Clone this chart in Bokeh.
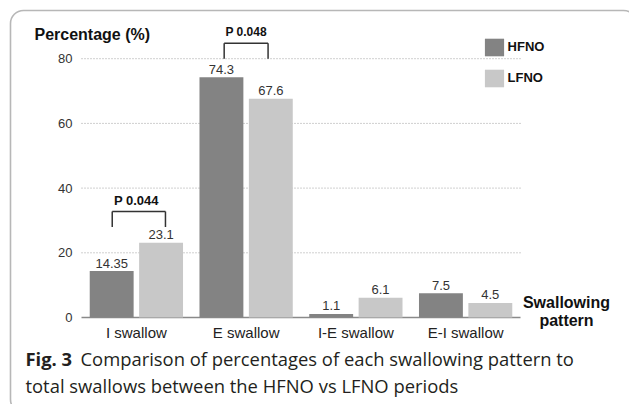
from bokeh.plotting import figure
from bokeh.models import (ColumnDataSource, Label, BoxAnnotation, Legend, LegendItem, Range1d)
from bokeh.transform import dodge
from bokeh.embed import file_html
from bokeh.resources import INLINE
from bokeh.core.properties import value

# ---- data ----
categories = ["I swallow", "E swallow", "I-E swallow", "E-I swallow"]
hfno = [14.35, 74.3, 1.1, 7.5]
lfno = [23.1, 67.6, 6.1, 4.5]
hfno_labels = ["14.35", "74.3", "1.1", "7.5"]
lfno_labels = ["23.1", "67.6", "6.1", "4.5"]
y_ticks = [0, 20, 40, 60, 80]
y_tick_labels = ["0", "20", "40", "60", "80"]
p_labels = ["P 0.044", "P 0.048"]
p_categories = ["I swallow", "E swallow"]
p_bracket_tops = [32.8, 84.8]

# ---- layout (page pixels) ----
W, H = 629, 404
PX_LEFT, PX_RIGHT = 81, 520      # plot area horizontally
PX_ZERO, PX_PER_UNIT = 317, 3.235
N = len(categories)
PX_PER_CAT = (PX_RIGHT - PX_LEFT) / N

def sx(px):
    return (px - PX_LEFT) / PX_PER_CAT

def sy(py):
    return (PX_ZERO - py) / PX_PER_UNIT

FONT = value("Liberation Sans")

xc = [i + 0.5 for i in range(N)]
src = ColumnDataSource(dict(xc=xc, cat=categories, hfno=hfno, lfno=lfno,
                            hl=hfno_labels, ll=lfno_labels))

p = figure(width=W, height=H, x_range=Range1d(sx(0), sx(W)), y_range=Range1d(sy(H), sy(0)),
           output_backend="svg", toolbar_location=None,
           x_axis_location=None, y_axis_location=None,
           min_border=0, min_border_left=0, min_border_right=0,
           min_border_top=0, min_border_bottom=0)
p.outline_line_color = None
p.grid.visible = False
p.background_fill_color = "white"
p.border_fill_color = "white"

# gridlines (dotted) and baseline
grid_ticks = [t for t in y_ticks if t > 0]
p.segment(x0=[0] * len(grid_ticks), x1=[N] * len(grid_ticks), y0=grid_ticks, y1=grid_ticks,
          line_color="#a0a0a0", line_width=1, line_dash="1 2")
p.segment(x0=[0], x1=[N], y0=[0], y1=[0], line_color="#8a8a8a", line_width=1.5)

# y tick labels
p.text(x=[sx(72)] * len(y_ticks), y=y_ticks, text=y_tick_labels, text_font=FONT,
       text_font_size="13px", text_color="#333333", text_align="right",
       text_baseline="middle")

# category labels
p.text(x="xc", y=sy(332), text="cat", source=src, text_font=FONT,
       text_font_size="15px", text_color="#222222", text_align="center",
       text_baseline="middle")

OFF = 0.225
r1 = p.vbar(x=dodge("xc", -OFF), top="hfno", width=0.4, bottom=0,
            source=src, fill_color="#838383", line_color=None)
r2 = p.vbar(x=dodge("xc", OFF), top="lfno", width=0.4, bottom=0,
            source=src, fill_color="#c8c8c8", line_color=None)

for col, lab, off in (("hfno", "hl", -OFF), ("lfno", "ll", OFF)):
    p.text(x=dodge("xc", off), y=col, text=lab, source=src,
           text_font=FONT, text_font_size="13px", text_color="#333333",
           text_align="center", text_baseline="middle", y_offset=-8)

# significance brackets
spans = [(-0.22, 0.265), (-0.2, 0.2)]
LEG = 4.8
for cat, top, lab, (a, b), fs in zip(p_categories, p_bracket_tops, p_labels, spans,
                                      ["13px", "12px"]):
    c = categories.index(cat) + 0.5
    p.segment(x0=[c + a, c + a, c + b], y0=[top, top, top],
              x1=[c + b, c + a, c + b], y1=[top, top - LEG, top - LEG],
              line_color="#333333", line_width=1.5)
    p.add_layout(Label(x=c, y=top + 3.4, text=lab, text_font="Liberation Sans",
                       text_font_size=fs, text_font_style="bold", text_color="#111111",
                       text_align="center", text_baseline="middle"))

# axis titles
p.add_layout(Label(x=sx(34), y=sy(34), text="Percentage (%)", text_font="Liberation Sans",
                   text_font_size="16px", text_font_style="bold", text_color="#111111",
                   text_align="left", text_baseline="middle"))
p.add_layout(Label(x=sx(566), y=sy(302), text="Swallowing", text_font="Liberation Sans",
                   text_font_size="16px", text_font_style="bold", text_color="#111111",
                   text_align="center", text_baseline="middle"))
p.add_layout(Label(x=sx(566), y=sy(320), text="pattern", text_font="Liberation Sans",
                   text_font_size="16px", text_font_style="bold", text_color="#111111",
                   text_align="center", text_baseline="middle"))

# legend (location = bottom-left corner, measured from canvas bottom-left)
legend = Legend(items=[LegendItem(label="HFNO", renderers=[r1]),
                       LegendItem(label="LFNO", renderers=[r2])],
                location=(481.6, H - 35.75 - 53), glyph_width=24, glyph_height=22, spacing=9,
                padding=0, margin=0, border_line_color=None, background_fill_alpha=0,
                label_text_font="Liberation Sans", label_text_font_size="13px",
                label_text_font_style="bold", label_text_color="#111111",
                label_standoff=2)
p.add_layout(legend)

# caption
CAP = "18.4px"
p.add_layout(Label(x=sx(25), y=sy(358), text="Fig. 3", text_font="Open Sans",
                   text_font_size=CAP, text_font_style="bold", text_color="#231f20",
                   text_align="left", text_baseline="middle"))
p.add_layout(Label(x=sx(80), y=sy(358),
                   text="Comparison of percentages of each swallowing pattern to",
                   text_font="Open Sans", text_font_size=CAP, text_color="#231f20",
                   text_align="left", text_baseline="middle"))
p.add_layout(Label(x=sx(25), y=sy(385),
                   text="total swallows between the HFNO vs LFNO periods",
                   text_font="Open Sans", text_font_size=CAP, text_color="#231f20",
                   text_align="left", text_baseline="middle"))

# rounded frame
p.add_layout(BoxAnnotation(left=10, right=636, top=10, bottom=412,
                           left_units="canvas", right_units="canvas",
                           top_units="canvas", bottom_units="canvas",
                           fill_color=None, fill_alpha=0, line_color="#111111",
                           line_width=1.6, border_radius=13, level="overlay"))

open("out.html", "w").write(file_html(p, INLINE))
